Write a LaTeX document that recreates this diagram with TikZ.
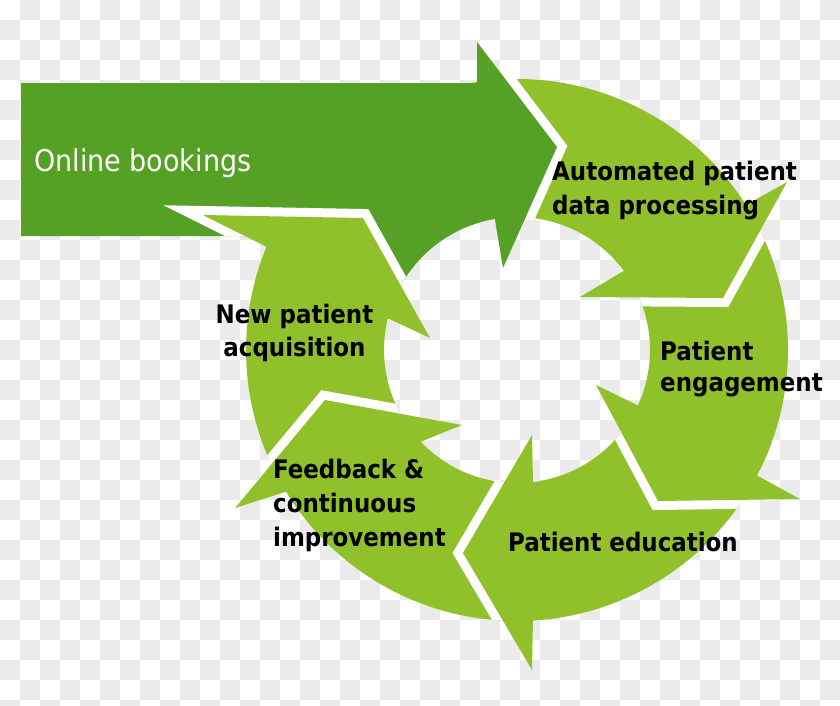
\documentclass[tikz,border=0pt]{standalone}
\usepackage{fontspec}
\newfontfamily\lblfont{DejaVu Sans Condensed}
\definecolor{lgreen}{RGB}{145,193,42}
\definecolor{dgreen}{RGB}{85,161,37}
\definecolor{checker}{RGB}{235,235,235}
\tikzset{
  gapline/.style={draw=white, line width=18, line join=miter},
  lbl/.style={font=\lblfont\bfseries\fontsize{25.5}{30}\selectfont, text=black, inner sep=0pt, anchor=base west},
  wlbl/.style={font=\lblfont\fontsize{30}{36}\selectfont, text=white, inner sep=0pt, anchor=base west},
}
\newcommand\darkpath{(21,83) -- (477,83) -- (477,42) -- (557,147) -- (503,268) -- (495,220) -- plot[domain=260.4:205,samples=40] ({517+133*cos(\x)},{350+133*sin(\x)}) -- (271,236) -- (21,236) -- cycle}
\newcommand\ringpath{plot[domain=0:360,samples=180] ({517+271*cos(\x)},{350+271*sin(\x)}) -- cycle plot[domain=360:0,samples=120] ({517+133*cos(\x)},{350+133*sin(\x)}) -- cycle}
\begin{document}
\begin{tikzpicture}[x=1pt,y=-1pt]
\useasboundingbox (0,0) rectangle (840,705);
\clip (0,0) rectangle (840,705);
% transparency checkerboard
\fill[white] (0,0) rectangle (840,705);
\foreach \i in {0,...,41}{
  \foreach \j in {0,...,35}{
    \pgfmathtruncatemacro\chk{mod(\i+\j,2)}
    \ifnum\chk=1 \fill[checker] (20*\i,20*\j) rectangle ++(20,20); \fi
  }
}
% ring of light green arrows
\fill[lgreen] \ringpath;
% dark green arrow (Online bookings)
\begin{scope}
  \clip \ringpath;
  \draw[gapline] (477,42) -- (557,147) -- (503,268);
\end{scope}
\fill[dgreen] \darkpath;
% head: new patient acquisition
\begin{scope}
  \clip \darkpath;
  \draw[gapline] (263,245) -- (203,215) -- (363,218) -- (430,338);
\end{scope}
\fill[lgreen] (263,245) -- (203,215) -- (363,218) -- (430,338) -- (385,317) -- cycle;
% head: automated patient data processing
\begin{scope}
  \clip \ringpath;
  \draw[gapline] (787,182) -- (723,298) -- (580,297);
\end{scope}
\fill[lgreen] (746,205) -- (787,182) -- (723,298) -- (580,297) -- (625,270) -- cycle;
% head: patient engagement
\begin{scope}
  \clip \ringpath;
  \draw[gapline] (800,499) -- (658,501) -- (596,385);
\end{scope}
\fill[lgreen] (758,476) -- (800,499) -- (658,501) -- (596,385) -- (639,406) -- cycle;
% head: patient education
\begin{scope}
  \clip \ringpath;
  \draw[gapline] (532,670) -- (463,553) -- (532,435);
\end{scope}
\fill[lgreen] (533,617) -- (532,670) -- (463,553) -- (532,435) -- (533,482) -- cycle;
% head: feedback
\begin{scope}
  \clip \ringpath;
  \draw[gapline] (235,508) -- (325,400) -- (462,425);
\end{scope}
\fill[lgreen] (285,492) -- (235,508) -- (325,400) -- (462,425) -- (420,442) -- cycle;
% labels
\node[wlbl] (ob) at (34,171) {Online bookings};
\node[lbl] (au1) at (552,180) {Automated patient};
\node[lbl] (au2) at (552,214) {data processing};
\node[lbl] (en1) at (660,360) {Patient};
\node[lbl] (en2) at (660,391) {engagement};
\node[lbl] (ed) at (508,551) {Patient education};
\node[lbl] (fb1) at (273,478) {Feedback \&};
\node[lbl] (fb2) at (273,512) {continuous};
\node[lbl] (fb3) at (273,546) {improvement};
\node[lbl, anchor=base] (np1) at (294.5,323) {New patient};
\node[lbl, anchor=base] (np2) at (294.5,356) {acquisition};
\end{tikzpicture}
\end{document}
